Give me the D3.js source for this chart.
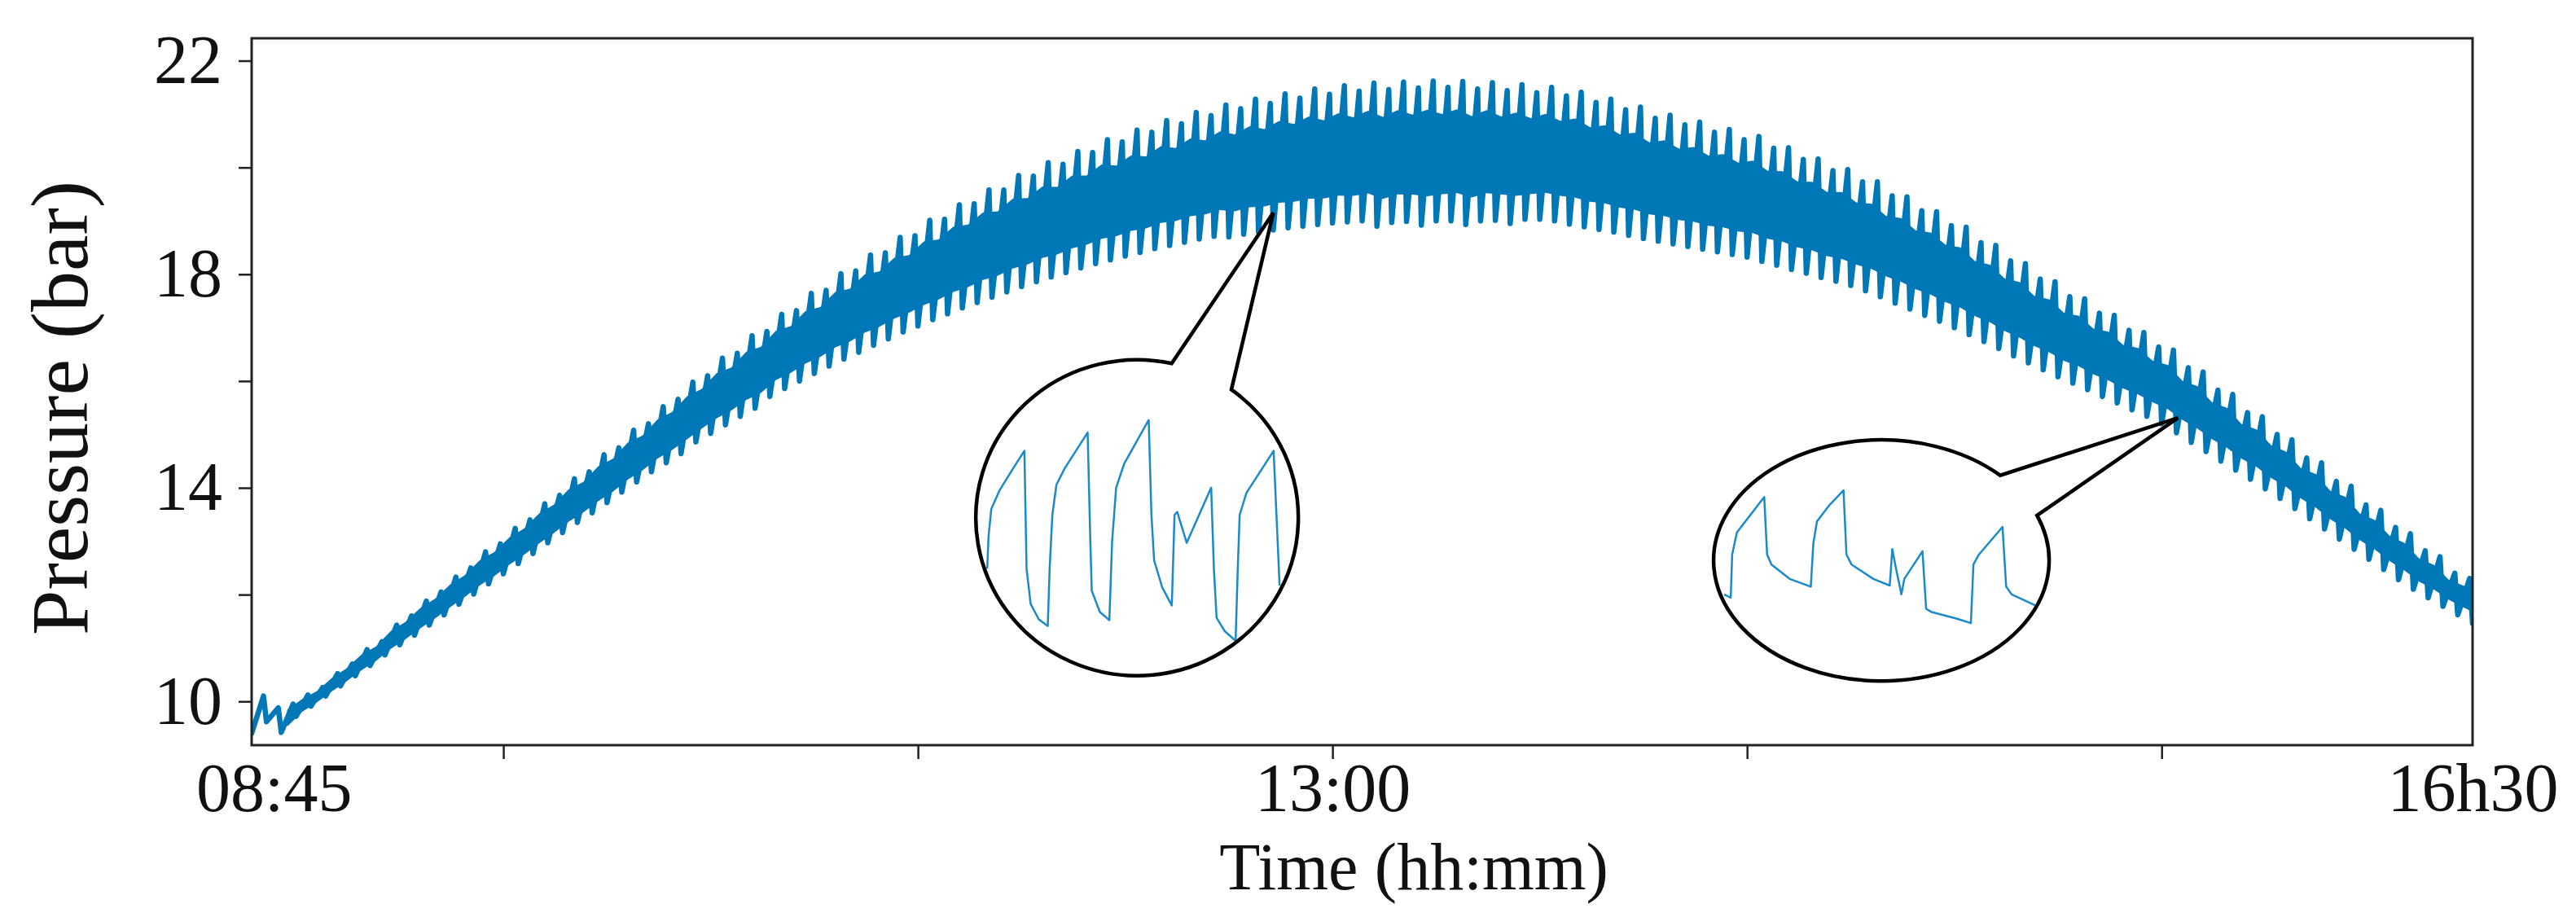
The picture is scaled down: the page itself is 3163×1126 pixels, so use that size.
<!DOCTYPE html>
<html>
<head>
<meta charset="utf-8">
<script src="https://cdn.jsdelivr.net/npm/d3@7"></script>
<style>
  body { margin: 0; background: #fff; }
  text { font-family: "Liberation Serif", "Times New Roman", serif; fill: #111; }
</style>
</head>
<body>
<div id="chart"></div>
<script>
// Pressure record, one entry per pump cycle (index 0..150 along the time axis)
// cycle tops (bar)
var peaks = [
    10.10, 9.88, 9.95, 10.12, 10.26, 10.52, 10.70, 10.97, 11.12, 11.43,
    11.60, 11.88, 12.05, 12.33, 12.50, 12.80, 12.95, 13.24, 13.40, 13.70,
    13.86, 14.17, 14.30, 14.62, 14.75, 15.08, 15.20, 15.52, 15.66, 15.98,
    16.10, 16.43, 16.52, 16.85, 16.93, 17.25, 17.32, 17.64, 17.70, 18.01,
    18.06, 18.36, 18.40, 18.69, 18.72, 19.01, 19.03, 19.30, 19.32, 19.58,
    19.58, 19.85, 19.84, 20.09, 20.06, 20.30, 20.28, 20.52, 20.48, 20.70,
    20.66, 20.88, 20.82, 21.03, 20.97, 21.17, 21.10, 21.28, 21.20, 21.38,
    21.30, 21.47, 21.37, 21.53, 21.43, 21.58, 21.46, 21.60, 21.49, 21.62,
    21.50, 21.61, 21.47, 21.59, 21.44, 21.55, 21.40, 21.50, 21.34, 21.41,
    21.22, 21.28, 21.08, 21.13, 20.92, 20.98, 20.80, 20.85, 20.66, 20.71,
    20.52, 20.58, 20.36, 20.37, 20.15, 20.16, 19.94, 19.96, 19.73, 19.73,
    19.47, 19.45, 19.19, 19.17, 18.91, 18.88, 18.59, 18.54, 18.25, 18.20,
    17.91, 17.86, 17.58, 17.54, 17.27, 17.23, 16.95, 16.91, 16.64, 16.58,
    16.25, 16.17, 15.83, 15.75, 15.41, 15.33, 15.00, 14.90, 14.56, 14.47,
    14.12, 14.03, 13.68, 13.58, 13.26, 13.14, 12.82, 12.71, 12.40, 12.30
];
// cycle bottoms (bar)
var troughs = [
    9.40, 9.62, 9.42, 9.72, 9.91, 10.10, 10.29, 10.48, 10.67, 10.87,
    11.06, 11.24, 11.43, 11.62, 11.82, 12.01, 12.20, 12.39, 12.58, 12.77,
    12.97, 13.16, 13.35, 13.53, 13.72, 13.92, 14.11, 14.30, 14.47, 14.64,
    14.86, 15.02, 15.18, 15.34, 15.49, 15.71, 15.86, 16.00, 16.14, 16.28,
    16.41, 16.54, 16.67, 16.79, 16.92, 17.03, 17.15, 17.26, 17.37, 17.47,
    17.57, 17.67, 17.77, 17.86, 17.95, 18.03, 18.12, 18.20, 18.27, 18.34,
    18.41, 18.48, 18.54, 18.60, 18.66, 18.71, 18.70, 18.75, 18.79, 18.83,
    18.87, 18.90, 18.93, 18.96, 18.98, 19.00, 18.90, 18.97, 18.99, 18.92,
    19.00, 19.00, 18.93, 19.00, 19.01, 18.95, 19.03, 19.03, 19.00, 18.94,
    18.89, 18.84, 18.79, 18.73, 18.67, 18.62, 18.57, 18.52, 18.47, 18.42,
    18.37, 18.32, 18.24, 18.17, 18.09, 18.02, 17.94, 17.87, 17.79, 17.69,
    17.58, 17.46, 17.35, 17.23, 17.12, 17.00, 16.87, 16.74, 16.61, 16.47,
    16.34, 16.21, 16.08, 15.96, 15.84, 15.71, 15.59, 15.46, 15.34, 15.20,
    15.03, 14.85, 14.68, 14.50, 14.33, 14.16, 13.98, 13.80, 13.61, 13.42,
    13.23, 13.04, 12.85, 12.66, 12.47, 12.28, 12.10, 11.94, 11.78, 11.62,
    11.46
];

// x axis ticks (cycle index) and the three labelled positions
var xTicks = [17, 45, 73, 101, 129];
var xLabelPos = [1.5, 73, 150];
var xLabels = ["08:45", "13:00", "16h30"];
var yTicks = [10, 12, 14, 16, 18, 20, 22];
var yLabelled = [10, 14, 18, 22];

// zoomed detail shown in the two callouts: [t, bar]
var zoom1 = [
    [0, 19.48], [0.46, 19.92], [1.39, 20.29], [4.18, 20.54], [8.82, 20.84], [12.72, 21.08],
    [13.46, 19.48], [14.86, 19.0], [17.64, 18.79], [20.71, 18.70],
    [21.36, 19.48], [22.28, 20.21], [23.68, 20.62], [26.46, 20.84], [34.35, 21.33],
    [35.28, 19.84], [35.75, 19.18], [38.53, 18.89], [41.78, 18.78],
    [42.71, 19.84], [44.10, 20.58], [46.89, 20.91], [55.24, 21.50],
    [56.17, 20.21], [57.10, 19.59], [59.89, 19.22], [63.14, 18.98],
    [64.07, 20.21], [65.0, 20.25], [68.24, 19.83], [76.60, 20.58],
    [77.53, 19.48], [78.46, 18.81], [81.24, 18.63], [84.96, 18.50],
    [85.70, 19.48], [86.35, 20.21], [88.67, 20.51], [97.96, 21.08],
    [99.35, 19.84], [100, 19.25]
];
var zoom2 = [
    [0, 15.06], [2.11, 15.03], [2.57, 15.42], [4.09, 15.62], [8.19, 15.77], [12.87, 15.94],
    [13.80, 15.42], [15.20, 15.33], [21.05, 15.20], [27.84, 15.13],
    [28.66, 15.52], [29.82, 15.72], [33.92, 15.87], [38.36, 16.0],
    [39.30, 15.42], [40.94, 15.33], [47.95, 15.20], [53.22, 15.14],
    [54.04, 15.47], [54.97, 15.33], [56.96, 15.06], [57.90, 15.20], [63.74, 15.45],
    [64.91, 14.93], [66.67, 14.90], [74.85, 14.84], [79.30, 14.80],
    [80.12, 15.33], [81.87, 15.42], [89.47, 15.67],
    [90.64, 15.13], [92.40, 15.06], [100, 14.96]
];

function chart() {
    var width = 3163;
    var height = 1126;
    var left = 309, right = 3036, top = 47, bottom = 915;
    var blue = "#0077b6";

    var svg = d3.select("#chart")
                .append("svg")
                .attr("width", width)
                .attr("height", height);

    svg.append("rect").attr("width", width).attr("height", height).attr("fill", "#fff");

    var xScale = d3.scaleLinear().domain([0, 150]).range([left, right]);
    var yScale = d3.scaleLinear().domain([9.18, 22.42]).range([bottom, top]);

    svg.append("clipPath").attr("id", "plotclip")
        .append("rect")
        .attr("x", left).attr("y", top)
        .attr("width", right - left).attr("height", bottom - top);

    // solid core of the band
    var core = d3.range(troughs.length).map(function(i) {
        var p = peaks[Math.min(i, peaks.length - 1)];
        var t = troughs[i];
        return { x: i + 0.4, lo: t + 0.2 * (p - t), hi: p - 0.2 * (p - t) };
    });
    var area = d3.area()
                .x(function(d) { return xScale(d.x); })
                .y0(function(d) { return yScale(d.lo); })
                .y1(function(d) { return yScale(d.hi); });

    var band = svg.append("g").attr("clip-path", "url(#plotclip)");
    band.append("path")
        .datum(core.slice(2))
        .attr("d", area)
        .attr("fill", blue);

    // saw-tooth pressure trace: bottom of cycle, then top of cycle
    var pts = [];
    peaks.forEach(function(p, i) {
        pts.push([i, troughs[i]]);
        pts.push([i + 0.8, p]);
    });
    pts.push([150, troughs[150]]);

    var line = d3.line()
                .x(function(d) { return xScale(d[0]); })
                .y(function(d) { return yScale(d[1]); });

    band.append("path")
        .datum(pts)
        .attr("d", line)
        .attr("fill", "none")
        .attr("stroke", blue)
        .attr("stroke-width", 6.5)
        .attr("stroke-linejoin", "round")
        .attr("stroke-linecap", "round");

    // Callouts
    var callouts = [
        { tip: [69.0, 19.15], c: [59.8, 13.44], rx: 198, ry: 194, a1: -77.6, a2: -54.2,
          data: zoom1, t: [-184, 175], p: [18.5, 21.5], py: [151, -120], id: "z1" },
        { tip: [130.1, 15.31], c: [110.07, 12.64], rx: 206, ry: 148, a1: -44.9, a2: -21.9,
          data: zoom2, t: [-193, 189], p: [14.8, 16.0], py: [77, -86], id: "z2" }
    ];

    callouts.forEach(function(co) {
        var cx = xScale(co.c[0]), cy = yScale(co.c[1]);
        var tx = xScale(co.tip[0]), ty = yScale(co.tip[1]);
        var r1 = co.a1 * Math.PI / 180, r2 = co.a2 * Math.PI / 180;
        var b1 = [cx + co.rx * Math.cos(r1), cy + co.ry * Math.sin(r1)];
        var b2 = [cx + co.rx * Math.cos(r2), cy + co.ry * Math.sin(r2)];

        svg.append("ellipse")
            .attr("cx", cx).attr("cy", cy)
            .attr("rx", co.rx).attr("ry", co.ry)
            .attr("fill", "#fff");

        svg.append("clipPath").attr("id", co.id)
            .append("ellipse")
            .attr("cx", cx).attr("cy", cy)
            .attr("rx", co.rx - 2).attr("ry", co.ry - 2);

        var ix = d3.scaleLinear().domain([0, 100]).range([cx + co.t[0], cx + co.t[1]]);
        var iy = d3.scaleLinear().domain(co.p).range([cy + co.py[0], cy + co.py[1]]);
        var zline = d3.line()
                    .x(function(d) { return ix(d[0]); })
                    .y(function(d) { return iy(d[1]); });

        svg.append("path")
            .datum(co.data)
            .attr("clip-path", "url(#" + co.id + ")")
            .attr("d", zline)
            .attr("fill", "none")
            .attr("stroke", "#1a8acb")
            .attr("stroke-width", 2.5)
            .attr("stroke-linejoin", "round");

        var d = "M" + b2[0] + "," + b2[1] +
                " A" + co.rx + "," + co.ry + " 0 1 1 " + b1[0] + "," + b1[1] +
                " L" + tx + "," + ty + " Z";
        svg.append("path")
            .attr("d", d)
            .attr("fill", "none")
            .attr("stroke", "#000")
            .attr("stroke-width", 4.5)
            .attr("stroke-linejoin", "miter");
    });

    // Frame
    svg.append("rect")
        .attr("x", left).attr("y", top)
        .attr("width", right - left).attr("height", bottom - top)
        .attr("fill", "none")
        .attr("stroke", "#222")
        .attr("stroke-width", 3);

    // Y Axis
    var yAxis = d3.axisLeft(yScale)
                .tickValues(yTicks)
                .tickSize(16)
                .tickPadding(20)
                .tickFormat(function(d) { return yLabelled.indexOf(d) >= 0 ? d : ""; });
    var gy = svg.append("g")
        .attr("transform", "translate(" + left + ",0)")
        .call(yAxis);
    gy.select(".domain").remove();
    gy.selectAll("line").attr("stroke", "#222").attr("stroke-width", 2.5);
    gy.selectAll("text").style("font-size", "84px").attr("fill", "#111");

    // X Axis ticks
    var xAxis = d3.axisBottom(xScale)
                .tickValues(xTicks)
                .tickSize(17)
                .tickFormat("");
    var gx = svg.append("g")
        .attr("transform", "translate(0," + bottom + ")")
        .call(xAxis);
    gx.select(".domain").remove();
    gx.selectAll("line").attr("stroke", "#222").attr("stroke-width", 2.5);

    // X Axis labels
    var xLabAxis = d3.axisBottom(xScale)
                .tickValues(xLabelPos)
                .tickSize(0)
                .tickPadding(21)
                .tickFormat(function(d, i) { return xLabels[i]; });
    var gl = svg.append("g")
        .attr("transform", "translate(0," + bottom + ")")
        .call(xLabAxis);
    gl.select(".domain").remove();
    gl.selectAll("text").style("font-size", "84px").attr("fill", "#111");

    // X Axis title
    svg.append("text")
        .attr("text-anchor", "middle")
        .attr("x", 1736)
        .attr("y", 1092)
        .style("font-size", "82px")
        .text("Time (hh:mm)");

    // Y Axis title
    svg.append("text")
        .attr("text-anchor", "middle")
        .attr("transform", "translate(107," + 501 + ") rotate(-90)")
        .style("font-size", "100px")
        .text("Pressure (bar)");
}

window.onload = chart;
</script>
</body>
</html>
